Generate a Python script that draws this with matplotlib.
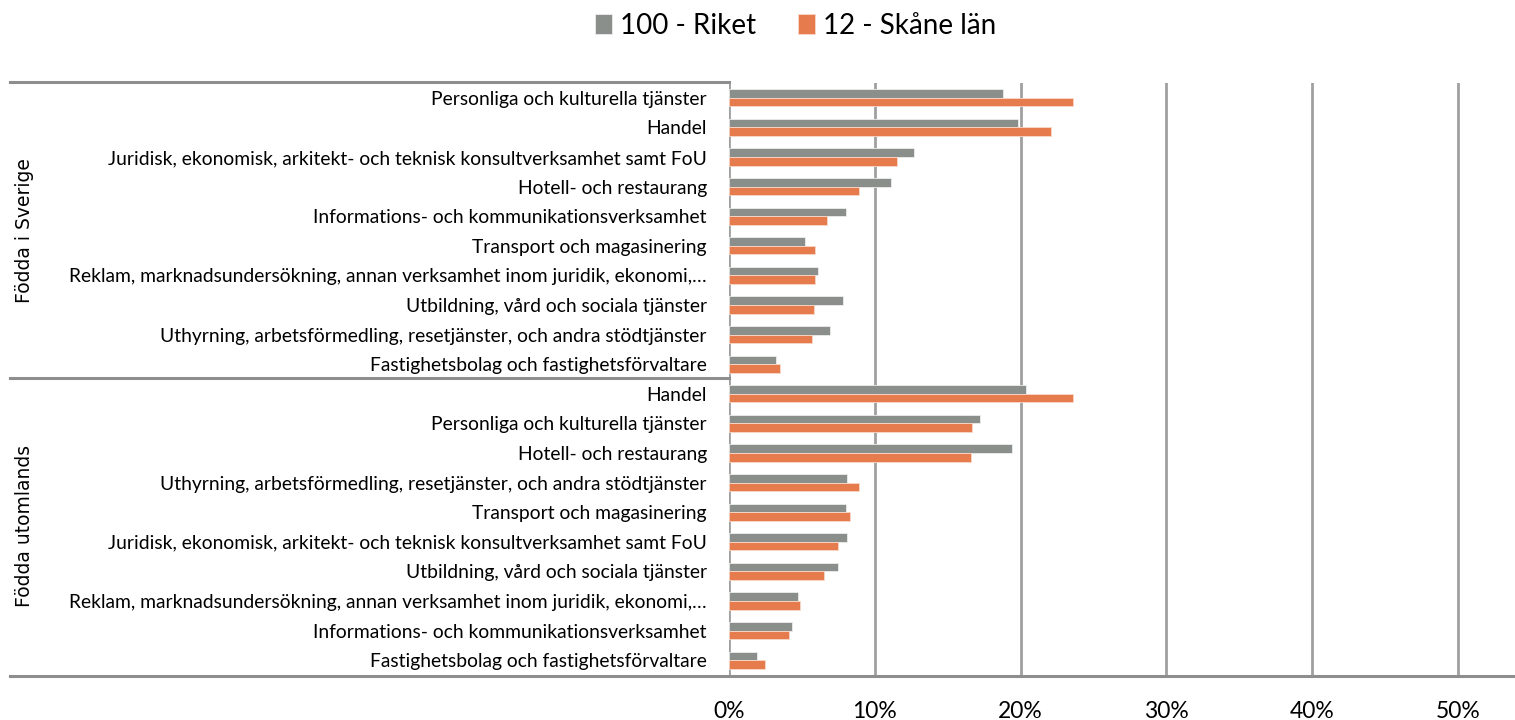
import matplotlib.pyplot as plt
from matplotlib.lines import Line2D
import numpy as np

groups = ['Födda i Sverige', 'Födda utomlands']

cats_sverige = [
    'Personliga och kulturella tjänster',
    'Handel',
    'Juridisk, ekonomisk, arkitekt- och teknisk konsultverksamhet samt FoU',
    'Hotell- och restaurang',
    'Informations- och kommunikationsverksamhet',
    'Transport och magasinering',
    'Reklam, marknadsundersökning, annan verksamhet inom juridik, ekonomi,…',
    'Utbildning, vård och sociala tjänster',
    'Uthyrning, arbetsförmedling, resetjänster, och andra stödtjänster',
    'Fastighetsbolag och fastighetsförvaltare',
]
riket_sverige = [18.8, 19.8, 12.7, 11.1, 8.0, 5.2, 6.1, 7.8, 6.9, 3.2]
skane_sverige = [23.6, 22.1, 11.5, 8.9, 6.7, 5.9, 5.9, 5.8, 5.7, 3.5]

cats_utomlands = [
    'Handel',
    'Personliga och kulturella tjänster',
    'Hotell- och restaurang',
    'Uthyrning, arbetsförmedling, resetjänster, och andra stödtjänster',
    'Transport och magasinering',
    'Juridisk, ekonomisk, arkitekt- och teknisk konsultverksamhet samt FoU',
    'Utbildning, vård och sociala tjänster',
    'Reklam, marknadsundersökning, annan verksamhet inom juridik, ekonomi,…',
    'Informations- och kommunikationsverksamhet',
    'Fastighetsbolag och fastighetsförvaltare',
]
riket_utomlands = [20.4, 17.2, 19.4, 8.1, 8.0, 8.1, 7.5, 4.7, 4.3, 1.9]
skane_utomlands = [23.6, 16.7, 16.6, 8.9, 8.3, 7.5, 6.5, 4.9, 4.1, 2.5]

series_names = ['100 - Riket', '12 - Skåne län']
x_ticks = [0, 10, 20, 30, 40, 50]

grey = '#8B8F8C'
orange = '#E67C4D'
linec = '#8E8E8E'

plt.rcParams['font.family'] = ['Lato', 'DejaVu Sans']

cats = cats_sverige + cats_utomlands
riket = np.array(riket_sverige + riket_utomlands)
skane = np.array(skane_sverige + skane_utomlands)
y = np.arange(len(cats))

fig = plt.figure(figsize=(15.15, 7.2), dpi=100)
W, H = 1515, 720
ax = fig.add_axes([729 / W, 45 / H, (W - 729) / W, 592 / H])

h = 0.29
b1 = ax.barh(y - h / 2, riket, height=h, color=grey, edgecolor='#EDEDED', linewidth=0.6, zorder=3)
b2 = ax.barh(y + h / 2, skane, height=h, color=orange, edgecolor='#F8D8C8', linewidth=0.6, zorder=3)

ax.set_ylim(len(cats) - 0.5, -0.5)
ax.set_xlim(0, (W - 729) / 145.8 * 10)
ax.set_yticks(y)
ax.set_yticklabels(cats, fontsize=13.9)
ax.tick_params(axis='y', length=0, pad=16)
ax.set_xticks(x_ticks)
ax.set_xticklabels([f'{v}%' for v in x_ticks], fontsize=16.5)
ax.tick_params(axis='x', length=0, pad=19)
for s in ax.spines.values():
    s.set_visible(False)
ax.xaxis.grid(True, color='#A0A0A0', linewidth=2, zorder=0)

# category group separators and the bottom axis line
def fl(x0, y0, x1, y1, c=linec, lw=2.2):
    fig.add_artist(Line2D([x0 / W, x1 / W], [1 - y0 / H, 1 - y1 / H], color=c, lw=lw))

fl(10, 82, 729, 82)
fl(10, 378, 729, 378)
fl(10, 675.5, W, 675.5)

fig.text(25 / W, 1 - 231 / H, groups[0], rotation=90, ha='center', va='center',
         fontsize=13.5, family='DejaVu Sans')
fig.text(25 / W, 1 - 526 / H, groups[1], rotation=90, ha='center', va='center',
         fontsize=13.5, family='DejaVu Sans')

fig.legend([b1, b2], series_names, loc='center', bbox_to_anchor=(796 / W, 1 - 26 / H),
           ncol=2, frameon=False, fontsize=20, handlelength=0.6, handleheight=0.75,
           handletextpad=0.3, columnspacing=1.5)

fig.savefig('out.png', dpi=100)
